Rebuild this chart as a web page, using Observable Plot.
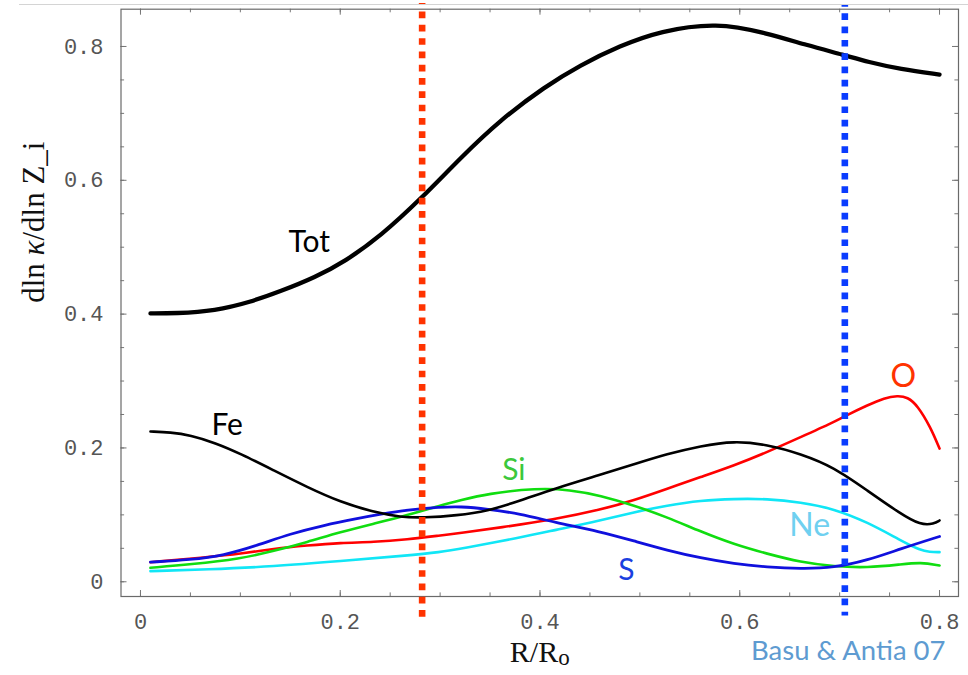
<!DOCTYPE html>
<html><head><meta charset="utf-8">
<script src="https://cdn.jsdelivr.net/npm/d3@7"></script>
<script src="https://cdn.jsdelivr.net/npm/@observablehq/plot@0.6"></script>
<style>
html,body{margin:0;padding:0;background:#fff;}
#chart{position:relative;width:968px;height:675px;overflow:hidden;background:#fff;}
#topline{position:absolute;left:19px;right:0;top:4px;height:0;border-top:1.5px solid #d4d4d4;}
</style></head><body>
<div id="chart"></div>
<script>
// ---- data (R/R_o, dln kappa / dln Z_i) ----
const tot = [[0.01,0.401],[0.035,0.401],[0.075,0.405],[0.11,0.418],[0.14,0.434],[0.175,0.455],[0.205,0.479],[0.24,0.516],[0.282,0.574],[0.32,0.633],[0.36,0.69],[0.405,0.74],[0.44,0.772],[0.48,0.801],[0.52,0.823],[0.577,0.836],[0.627,0.82],[0.667,0.802],[0.705,0.787],[0.728,0.777],[0.761,0.766],[0.8,0.758]];
const fe = [[0.01,0.2246],[0.03,0.2235],[0.05,0.219],[0.075,0.2075],[0.1,0.1915],[0.1335,0.1664],[0.1669,0.1414],[0.2003,0.119],[0.2336,0.104],[0.2603,0.0966],[0.2837,0.0956],[0.317,0.0991],[0.347,0.1055],[0.38,0.121],[0.414,0.139],[0.4606,0.16],[0.494,0.1755],[0.5274,0.191],[0.5608,0.203],[0.5942,0.2105],[0.6275,0.2052],[0.6609,0.1913],[0.6943,0.1713],[0.7277,0.1364],[0.7611,0.1015],[0.7811,0.0846],[0.7945,0.0866],[0.8,0.0916]];
const oxy = [[0.01,0.0293],[0.0668,0.0368],[0.1,0.0418],[0.1335,0.0493],[0.1669,0.0543],[0.2003,0.0583],[0.2336,0.0593],[0.267,0.0633],[0.3004,0.0693],[0.3204,0.0728],[0.36,0.081],[0.414,0.093],[0.4606,0.1076],[0.494,0.1216],[0.5274,0.139],[0.5608,0.1565],[0.5942,0.1737],[0.6275,0.1938],[0.6609,0.2162],[0.6943,0.2386],[0.705,0.2475],[0.728,0.264],[0.745,0.275],[0.758,0.278],[0.768,0.276],[0.778,0.2635],[0.791,0.231],[0.8,0.199]];
const sul = [[0.01,0.0293],[0.05,0.0329],[0.0834,0.0393],[0.1168,0.0543],[0.1502,0.0718],[0.1836,0.0845],[0.217,0.0945],[0.2403,0.101],[0.267,0.1076],[0.3004,0.1116],[0.3204,0.1125],[0.347,0.109],[0.38,0.1016],[0.414,0.089],[0.46,0.075],[0.494,0.061],[0.5274,0.047],[0.5608,0.0355],[0.5942,0.027],[0.6275,0.022],[0.6609,0.0194],[0.6943,0.0209],[0.7277,0.0319],[0.7611,0.0493],[0.8,0.0677]];
const sil = [[0.01,0.0209],[0.05,0.0259],[0.1,0.0344],[0.1335,0.0459],[0.1669,0.0593],[0.2003,0.0743],[0.2336,0.0868],[0.267,0.0993],[0.3004,0.1143],[0.3204,0.1218],[0.347,0.1316],[0.397,0.14],[0.43,0.1375],[0.4606,0.129],[0.494,0.1141],[0.5274,0.0966],[0.5608,0.075],[0.5942,0.056],[0.6275,0.0418],[0.6609,0.0293],[0.6943,0.0229],[0.7277,0.0209],[0.7611,0.0259],[0.7811,0.0293],[0.8,0.0244]];
const neo = [[0.01,0.0159],[0.0668,0.0184],[0.1335,0.0229],[0.2003,0.0309],[0.267,0.0393],[0.3004,0.0443],[0.3204,0.0493],[0.38,0.066],[0.414,0.077],[0.4606,0.0916],[0.494,0.1041],[0.5274,0.1141],[0.5608,0.1215],[0.5942,0.124],[0.6275,0.124],[0.6609,0.119],[0.6943,0.1091],[0.7277,0.0892],[0.7611,0.0618],[0.7811,0.0468],[0.79,0.0445],[0.8,0.0443]];

const labelText = ["Tot","Fe","Si","S","Ne","O"];
const labelX = [0.169,0.0868,0.3738,0.4864,0.670,0.7638];
const labelY = [0.507,0.233,0.1668,0.0163,0.0835,0.307];
const labelSize = [30,30,30,30,32,32];
const labelColor = ["#000","#000","#3cc83c","#1b3fe0","#6fd0f0","#ff3300"];

const markerX = [0.282, 0.7052];          // red: R ~ 0.28, blue: base of convection zone
const markerTop = [0.8643, 0.8617];
const markerBottom = [-0.0529, -0.0511];

const xMajor = [0,0.2,0.4,0.6,0.8];
const xMinor = [0,0.05,0.1,0.15,0.2,0.25,0.3,0.35,0.4,0.45,0.5,0.55,0.6,0.65,0.7,0.75,0.8];
const yMajor = [0,0.2,0.4,0.6,0.8];
const yMinor = [0,0.05,0.1,0.15,0.2,0.25,0.3,0.35,0.4,0.45,0.5,0.55,0.6,0.65,0.7,0.75,0.8];

const credit = ["Basu & Antia 07"];
const creditX = [0.806], creditY = [-0.103];

// ---- layout ----
const W = 968, H = 675, ML = 120.5, MR = 10, MT = 8.7, MB = 79;
const FW = W - ML - MR, FH = H - MT - MB;
const majorLen = 6, minorLen = 3.6, tickColor = "#777";

const labels = labelText.map((t,i) => ({t, x: labelX[i], y: labelY[i], s: labelSize[i], c: labelColor[i]}));
const markers = markerX.map((x,i) => ({x, y1: markerTop[i], y2: markerBottom[i], c: i === 0 ? "#ff3300" : "#0a3cff"}));

const lineOpts = (stroke, sw) => ({x: d => d[0], y: d => d[1], curve: "basis", stroke, strokeWidth: sw, strokeLinecap: "round", strokeLinejoin: "round"});

const plot = Plot.plot({
  width: W, height: H,
  marginLeft: ML, marginRight: MR, marginTop: MT, marginBottom: MB,
  x: {domain: [-0.0195, 0.819], label: null},
  y: {domain: [-0.022, 0.8557], label: null},
  style: {background: "white", overflow: "visible"},
  marks: [
    // inward ticks on all four sides
    Plot.ruleX(xMinor, {x: d => d, insetTop: FH - minorLen, stroke: tickColor}),
    Plot.ruleX(xMajor, {x: d => d, insetTop: FH - majorLen, stroke: tickColor}),
    Plot.ruleX(xMinor, {x: d => d, insetBottom: FH - minorLen, stroke: tickColor}),
    Plot.ruleX(xMajor, {x: d => d, insetBottom: FH - majorLen, stroke: tickColor}),
    Plot.ruleY(yMinor, {y: d => d, insetRight: FW - minorLen, stroke: tickColor}),
    Plot.ruleY(yMajor, {y: d => d, insetRight: FW - majorLen, stroke: tickColor}),
    Plot.ruleY(yMinor, {y: d => d, insetLeft: FW - minorLen, stroke: tickColor}),
    Plot.ruleY(yMajor, {y: d => d, insetLeft: FW - majorLen, stroke: tickColor}),
    Plot.frame({stroke: "#6a6a6a", strokeWidth: 1.2}),
    Plot.axisX({ticks: xMajor, tickSize: 0, tickPadding: 16.7, tickFormat: d => String(d), fontFamily: "Liberation Mono", fontSize: 22, color: "#555"}),
    Plot.axisY({ticks: yMajor, tickSize: 0, tickPadding: 17.5, tickFormat: d => String(d), fontFamily: "Liberation Mono", fontSize: 22, color: "#555"}),
    // curves
    Plot.line(neo, lineOpts("#11e6f6", 2.6)),
    Plot.line(oxy, lineOpts("#ff0000", 2.6)),
    Plot.line(sil, lineOpts("#10dd10", 2.6)),
    Plot.line(sul, lineOpts("#1010dd", 2.8)),
    Plot.line(fe, lineOpts("#000", 2.6)),
    Plot.line(tot, lineOpts("#000", 4.3)),
    // dotted reference lines
    Plot.ruleX(markers, {x: "x", y1: "y1", y2: "y2", stroke: "c", strokeWidth: 6.6, strokeDasharray: "6.7,6.6", strokeDashoffset: 4.7, clip: false}),
    // curve labels
    Plot.text(labels, {x: "x", y: "y", text: "t", fill: "c", fontSize: "s", fontFamily: "Lato", lineAnchor: "middle", textAnchor: "middle"}),
    // axis titles
    Plot.text(["dln κ/dln Z_i"], {frameAnchor: "left", rotate: -90, dx: -86.5, fontFamily: "Liberation Serif", fontSize: 31, fill: "#111", lineAnchor: "middle"}),
    Plot.text(["R/R"], {frameAnchor: "bottom", dy: 56, fontFamily: "Liberation Serif", fontSize: 30, fill: "#111", lineAnchor: "middle"}),
    // credit
    Plot.text(credit, {x: () => creditX[0], y: () => creditY[0], text: d => d, textAnchor: "end", fontFamily: "Lato", fontSize: 27.5, fill: "#5e9bd1", lineAnchor: "middle", clip: false})
  ]
});

const chart = document.getElementById("chart");
chart.appendChild(plot);
const tl = document.createElement("div"); tl.id = "topline"; chart.appendChild(tl);

// rich text: italic kappa, subscript o
d3.select(plot).selectAll("text").each(function() {
  const t = this.textContent;
  if (t === "dln κ/dln Z_i") {
    const s = d3.select(this); s.text(null);
    s.append("tspan").text("dln ");
    s.append("tspan").attr("font-style", "italic").text("κ");
    s.append("tspan").text("/dln Z_i");
  } else if (t === "R/R") {
    d3.select(this).append("tspan").attr("font-size", 23).attr("dy", "0.12em").text("o");
  }
});
</script>
</body></html>
